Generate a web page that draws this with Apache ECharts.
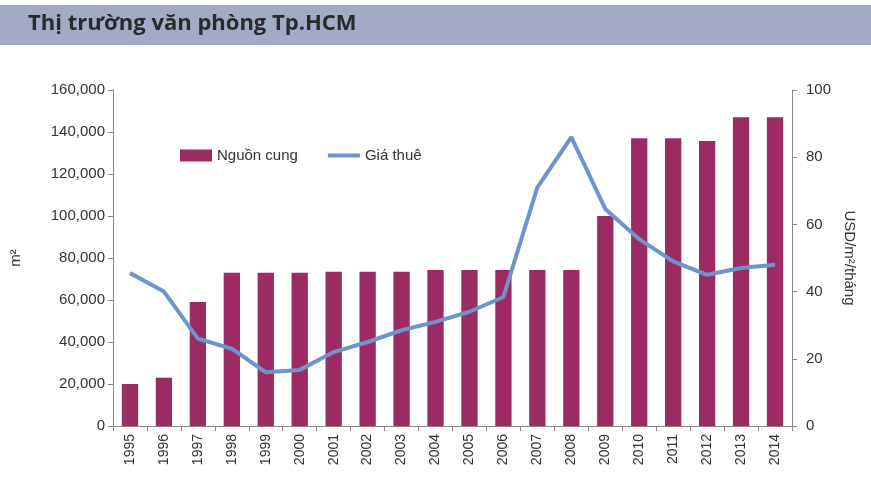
<!DOCTYPE html>
<html><head><meta charset="utf-8">
<script src="https://cdn.jsdelivr.net/npm/echarts@6/dist/echarts.min.js"></script>
<style>html,body{margin:0;padding:0;background:#fff}#c{width:871px;height:491px}</style>
</head><body><div id="c"></div>
<script>
const years = ['1995','1996','1997','1998','1999','2000','2001','2002','2003','2004','2005','2006','2007','2008','2009','2010','2011','2012','2013','2014'];
const supply = [20000,23000,59000,73000,73000,73000,73500,73500,73500,74300,74300,74300,74300,74300,100000,137000,137000,135700,147000,147000];
const rent = [45.5,40,26,23,16,16.7,22,25,28.5,31,34,38.4,71,86,64.6,55.6,49,45,47,48];
const leftTicks = v => v===0?'0':v.toLocaleString('en-US');
const chart = echarts.init(document.getElementById('c'));
chart.setOption({
  animation:false,
  textStyle:{fontFamily:'Liberation Sans, Arial, sans-serif'},
  graphic:[
    {type:'rect',shape:{x:0,y:5,width:871,height:40},style:{fill:'#a3aac6'}},
    {type:'text',left:28,top:13,style:{text:'Thị trường văn phòng Tp.HCM',font:'bold 22px "Open Sans", sans-serif',fill:'#2a2a2a'}}
  ],
  legend:{left:175,top:143,itemGap:30,itemWidth:32,itemHeight:12,textStyle:{fontSize:15,color:'#333'},
    data:[{name:'Nguồn cung',icon:'rect'},{name:'Giá thuê',icon:'path://M0,0H32V4H0Z'}]},
  grid:{left:108,right:79,top:90,bottom:65},
  xAxis:{type:'category',data:years,axisTick:{show:true,alignWithLabel:false,lineStyle:{color:'#888'}},
    axisLine:{lineStyle:{color:'#888'}},axisLabel:{rotate:90,fontSize:14,color:'#333',interval:0}},
  yAxis:[
    {type:'value',min:0,max:160000,interval:20000,name:'m²',nameLocation:'middle',nameGap:90,nameRotate:90,nameTextStyle:{fontSize:15,color:'#333'},
      axisLine:{show:true,lineStyle:{color:'#888'}},axisTick:{show:true},splitLine:{show:false},
      axisLabel:{fontSize:15,color:'#333',formatter:leftTicks}},
    {type:'value',min:0,max:100,interval:20,name:'USD/m²/tháng',nameLocation:'middle',nameGap:40,nameRotate:-90,nameTextStyle:{fontSize:15,color:'#333'},
      axisLine:{show:true,lineStyle:{color:'#888'}},axisTick:{show:true},splitLine:{show:false},
      axisLabel:{fontSize:15,color:'#333',margin:14}}
  ],
  series:[
    {name:'Nguồn cung',type:'bar',data:supply,barWidth:'48%',itemStyle:{color:'#9c2b63'}},
    {name:'Giá thuê',type:'line',yAxisIndex:1,data:rent,symbol:'none',lineStyle:{color:'#6f93cb',width:4},itemStyle:{color:'#6f93cb'}}
  ]
});
</script></body></html>
